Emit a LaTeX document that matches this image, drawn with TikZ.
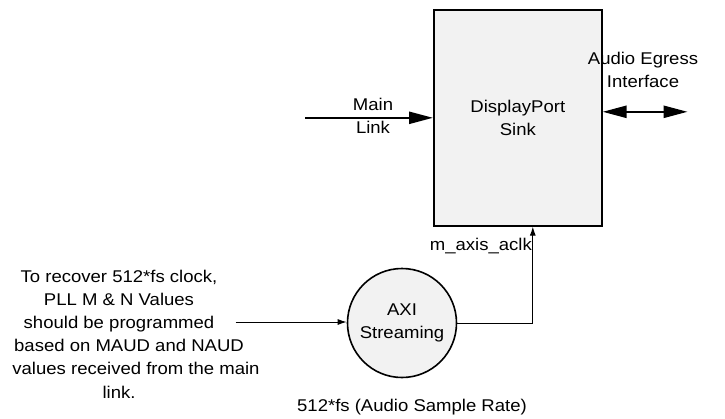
\documentclass[tikz,border=0pt]{standalone}
\usepackage{fontspec}
\setmainfont[FakeStretch=1.09]{Liberation Sans}
\usetikzlibrary{positioning,arrows.meta}
\newcommand\padline[2]{\hbox{#2\kern#1}}

\begin{document}
\begin{tikzpicture}[x=1pt,y=-1pt,font=\fontsize{17}{23.2}\selectfont]
\tikzset{
  blk/.style={draw,line width=1.6pt,fill=black!5},
  bus/.style={line width=2.4pt,-{Triangle[length=24pt,width=12pt]}},
  sig/.style={line width=1pt,-{Latex[length=9pt,width=6pt]}},
  lbl/.style={align=center,inner sep=0pt}
}
\useasboundingbox (0,0) rectangle (725,418);
% blocks
\node[blk,minimum width=168pt,minimum height=216pt,anchor=north west,lbl](sink) at (433,9){DisplayPort\\Sink};
\node[blk,circle,minimum size=109pt,lbl](axi) at (402,323){AXI\\Streaming};
% labels
\node[lbl](mainlbl) at (373,116){Main\\Link};
\node[lbl](egresslbl) at (643,70){Audio Egress\\Interface};
\node[lbl,anchor=east](clklbl) at (532,246){m\_axis\_aclk};
\node[lbl](notelbl) at (136,334){\padline{34pt}{To recover 512*fs clock,}\\\padline{34pt}{PLL M \& N Values}\\\padline{34pt}{should be programmed}\\\padline{14pt}{based on MAUD and NAUD}\\values received from the main\\\padline{34pt}{link.}};
\node[lbl](ratelbl) at (412,407){512*fs (Audio Sample Rate)};
% connectors
\draw[bus] ([xshift=-128pt]sink.west) -- (sink.west);
\draw[bus,{Triangle[length=24pt,width=12pt]}-{Triangle[length=24pt,width=12pt]}] ([yshift=6pt]sink.east) -- ([xshift=85pt,yshift=6pt]sink.east);
\draw[sig] (axi.east) -| ([xshift=15pt]sink.south);
\draw[sig] ([xshift=-111pt,yshift=1pt]axi.west) -- ([yshift=1pt]axi.west);
\end{tikzpicture}
\end{document}
